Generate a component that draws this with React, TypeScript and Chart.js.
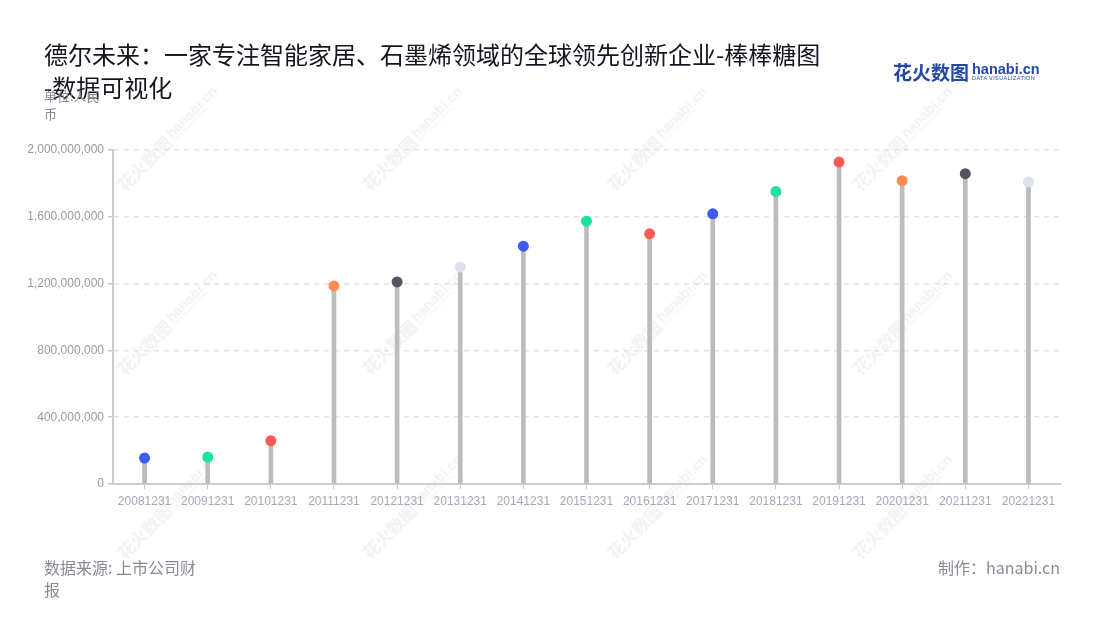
import { useEffect, useRef } from 'react'
import { Chart, registerables } from 'chart.js'

Chart.register(...registerables)

const dates = ['20081231', '20091231', '20101231', '20111231', '20121231', '20131231', '20141231', '20151231', '20161231', '20171231', '20181231', '20191231', '20201231', '20211231', '20221231']
const revenue = [155e6, 161e6, 259e6, 1186e6, 1210e6, 1300e6, 1424e6, 1574e6, 1498e6, 1618e6, 1752e6, 1928e6, 1816e6, 1858e6, 1808e6]
const dotColors = ['#3d5af1', '#19e39f', '#ff5b52', '#ff8d4f', '#55555f', '#dde1ea', '#3d5af1', '#19e39f', '#ff5b52', '#3d5af1', '#19e39f', '#ff5b52', '#ff8d4f', '#55555f', '#dde1ea']
const yMax = 2000000000
const yStep = 400000000

const titleLines = ['德尔未来：一家专注智能家居、石墨烯领域的全球领先创新企业-棒棒糖图', '-数据可视化']
const unitText = '单位:人民币'
const sourceText = '数据来源: 上市公司财报'
const madeBy = '制作：hanabi.cn'

const wmCols = [176, 421, 666, 911]
const wmRows = [130, 314, 498]

function Watermark({ x, y }: { x: number; y: number }) {
  return (
    <div style={{
      position: 'absolute', left: x - 80, top: y - 12, width: 160, height: 24,
      transform: 'rotate(-45deg)', color: '#f3f3f3', whiteSpace: 'nowrap',
      display: 'flex', alignItems: 'center', gap: 3, fontFamily: '"Noto Sans CJK SC", sans-serif',
    }}>
      <span style={{ fontSize: 17, fontWeight: 700 }}>花火数图</span>
      <span style={{ display: 'flex', flexDirection: 'column', lineHeight: 1 }}>
        <span style={{ fontSize: 14, fontWeight: 700, fontFamily: '"Liberation Sans", sans-serif' }}>hanabi.cn</span>
        <span style={{ fontSize: 4.5, fontFamily: '"Liberation Sans", sans-serif' }}>DATA VISUALIZATION</span>
      </span>
    </div>
  )
}

function LollipopChart() {
  const ref = useRef<HTMLCanvasElement>(null)
  const inst = useRef<Chart | null>(null)

  useEffect(() => {
    if (!ref.current) return
    if (inst.current) inst.current.destroy()

    inst.current = new Chart(ref.current, {
      type: 'bar',
      data: {
        labels: dates,
        datasets: [
          {
            type: 'line',
            data: revenue,
            showLine: false,
            pointRadius: 5.5,
            pointHoverRadius: 5.5,
            pointBorderWidth: 0,
            pointBackgroundColor: dotColors,
            order: 0,
          },
          {
            type: 'bar',
            data: revenue,
            backgroundColor: '#bcbcbc',
            barThickness: 4,
            order: 1,
          },
        ],
      },
      options: {
        animation: false,
        responsive: true,
        maintainAspectRatio: false,
        layout: { padding: { left: 0, right: 40, top: 150, bottom: 112 } },
        plugins: { legend: { display: false }, tooltip: { enabled: false } },
        scales: {
          x: {
            offset: true,
            afterFit: (s: any) => { s.height = 24 },
            grid: { offset: false, drawOnChartArea: false, drawTicks: true, tickLength: 5, color: '#c8c8c8' },
            border: { color: '#cccccc', width: 2 },
            ticks: { color: '#a4a8b8', font: { family: '"Liberation Sans", sans-serif', size: 12 }, padding: 5, maxRotation: 0, autoSkip: false },
          },
          y: {
            min: 0,
            max: yMax,
            afterFit: (s: any) => { s.width = 113 },
            grid: { color: '#e4e4e4', tickColor: '#c8c8c8', tickLength: 5, lineWidth: 1.5 },
            border: { color: '#cccccc', width: 2, dash: [5, 5] },
            ticks: {
              stepSize: yStep,
              color: '#9a9a9a',
              padding: 4,
              font: { family: '"Liberation Sans", sans-serif', size: 12 },
              callback: (v: any) => Number(v).toLocaleString('en-US'),
            },
          },
        },
      },
    })

    return () => inst.current?.destroy()
  }, [])

  return <canvas ref={ref} />
}

export default function App() {
  return (
    <div style={{ position: 'fixed', left: 0, top: 0, width: 1100, height: 620, background: '#fff', overflow: 'hidden', fontFamily: '"Noto Sans CJK SC", sans-serif' }}>
      {wmRows.map(y => wmCols.map(x => <Watermark key={`${x}-${y}`} x={x} y={y} />))}
      <div style={{ position: 'absolute', left: 0, top: 0, width: 1100, height: 620 }}>
        <LollipopChart />
      </div>
      <div style={{ position: 'absolute', left: 44, top: 37, whiteSpace: 'nowrap', fontSize: 24, lineHeight: '33px', color: '#15151f', fontWeight: 400 }}>
        {titleLines[0]}<br />{titleLines[1]}
      </div>
      <div style={{ position: 'absolute', left: 44, top: 87, width: 66, fontSize: 13, lineHeight: '18px', color: '#8a8a96' }}>{unitText}</div>
      <div style={{ position: 'absolute', left: 893, top: 58, display: 'flex', alignItems: 'center', gap: 3, color: '#2448a8' }}>
        <span style={{ fontSize: 19, fontWeight: 700, letterSpacing: 0 }}>花火数图</span>
        <span style={{ display: 'flex', flexDirection: 'column', lineHeight: 1 }}>
          <span style={{ fontSize: 14.5, fontWeight: 700, fontFamily: '"Liberation Sans", sans-serif' }}>hanabi.cn</span>
          <span style={{ fontSize: 5.5, fontFamily: '"Liberation Sans", sans-serif', letterSpacing: 0.4 }}>DATA VISUALIZATION</span>
        </span>
      </div>
      <div style={{ position: 'absolute', left: 44, top: 556, width: 158, fontSize: 16, lineHeight: '22px', color: '#8a8a96' }}>{sourceText}</div>
      <div style={{ position: 'absolute', right: 40, top: 556, fontSize: 16, lineHeight: '22px', color: '#8a8a96' }}>{madeBy}</div>
    </div>
  )
}
